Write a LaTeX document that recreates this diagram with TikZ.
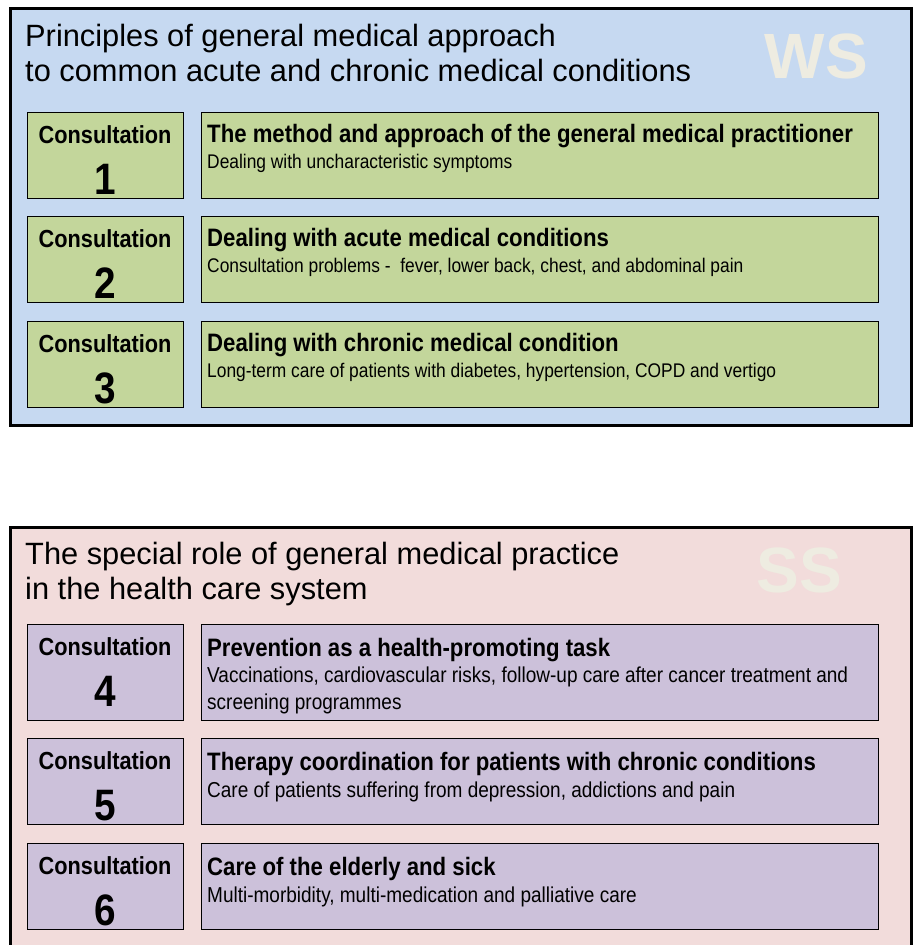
\documentclass[tikz,border=0pt]{standalone}
\usepackage{fontspec}
\setmainfont{Liberation Sans}
\newfontfamily\condf{Liberation Sans}[FakeStretch=0.88]
\usetikzlibrary{calc}
\definecolor{wsblue}{HTML}{C6D9F1}
\definecolor{ssrose}{HTML}{F2DCDB}
\definecolor{boxgreen}{HTML}{C3D69B}
\definecolor{boxlilac}{HTML}{CCC1DA}
\definecolor{wmark}{HTML}{EEECE1}
\tikzset{
  outerbox/.style={draw=black, line width=3pt, inner sep=0, anchor=north west},
  innerbox/.style={draw=black, line width=1.2pt, inner sep=0, anchor=north west},
  consbox/.style={innerbox, minimum width=156pt},
  topicbox/.style={innerbox, minimum width=677pt},
  titletext/.style={inner sep=0, anchor=base west, font=\fontsize{30.8}{35}\selectfont},
  watermark/.style={inner sep=0, anchor=base east, text=wmark, font=\fontsize{64}{64}\selectfont\bfseries},
  constext/.style={inner sep=0, anchor=base, font=\condf\fontsize{24.7}{28}\selectfont\bfseries},
  numtext/.style={inner sep=0, anchor=base, font=\condf\fontsize{44}{44}\selectfont\bfseries},
  headtext/.style={inner sep=0, anchor=base west, font=\condf\fontsize{25.2}{28}\selectfont\bfseries},
  subtext/.style={inner sep=0, anchor=base west, font=\condf\fontsize{19.75}{25}\selectfont},
  subtextbig/.style={inner sep=0, anchor=base west, font=\condf\fontsize{21.6}{27}\selectfont},
}
\newcommand\consrow[8]{%
  % #1 name, #2 top y, #3 height, #4 number, #5 heading, #6 sub text,
  % #7 heading baseline offset, #8 sub baseline offset ; colour via \rowcol, sub style via \substyle
  \node[consbox, fill=\rowcol, minimum height=#3pt] (c#1) at (26.5,#2) {};
  \node[topicbox, fill=\rowcol, minimum height=#3pt] (t#1) at (200.5,#2) {};
  \node[constext] (cl#1) at ($(c#1.north)+(0,31.5)$) {Consultation};
  \node[numtext] (cn#1) at ($(c#1.north)+(0,82.5)$) {#4};
  \node[headtext] (th#1) at ($(t#1.north west)+(6.5,#7)$) {#5};
  \node[\substyle] (ts#1) at ($(t#1.north west)+(6.5,#8)$) {\begin{tabular}[t]{@{}l@{}}#6\end{tabular}};
}
\begin{document}
\begin{tikzpicture}[x=1pt,y=-1pt]
\useasboundingbox (0,0) rectangle (913,945);
\fill[white] (0,0) rectangle (913,945);
% top panel
\node[outerbox, fill=wsblue, minimum width=901pt, minimum height=417.5pt] (ws) at (8.5,6.5) {};
\node[watermark] (wsmark) at (868,78) {WS};
\node[titletext] (wst1) at (25,46) {Principles of general medical approach};
\node[titletext] (wst2) at (25,81) {to common acute and chronic medical conditions};
\def\rowcol{boxgreen}
\def\substyle{subtext}
\consrow{1}{111.5}{86}{1}{The method and approach of the general medical practitioner}{Dealing with uncharacteristic symptoms}{30.5}{57}
\consrow{2}{215.5}{86}{2}{Dealing with acute medical conditions}{Consultation problems -\ \ fever, lower back, chest, and abdominal pain}{30.5}{57}
\consrow{3}{320.5}{86}{3}{Dealing with chronic medical condition}{Long-term care of patients with diabetes, hypertension, COPD and vertigo}{30.5}{57}
% bottom panel
\node[outerbox, fill=ssrose, minimum width=901pt, minimum height=440pt] (ss) at (8.5,525.5) {};
\node[watermark] (ssmark) at (842,592) {SS};
\node[titletext] (sst1) at (25,564) {The special role of general medical practice};
\node[titletext] (sst2) at (25,599) {in the health care system};
\def\rowcol{boxlilac}
\def\substyle{subtextbig}
\consrow{4}{623.5}{96}{4}{Prevention as a health-promoting task}{Vaccinations, cardiovascular risks, follow-up care after cancer treatment and\\screening programmes}{32.5}{59}
\consrow{5}{737.5}{86}{5}{Therapy coordination for patients with chronic conditions}{Care of patients suffering from depression, addictions and pain}{32.5}{59.5}
\consrow{6}{842.5}{86}{6}{Care of the elderly and sick}{Multi-morbidity, multi-medication and palliative care}{32.5}{59.5}
\end{tikzpicture}
\end{document}
